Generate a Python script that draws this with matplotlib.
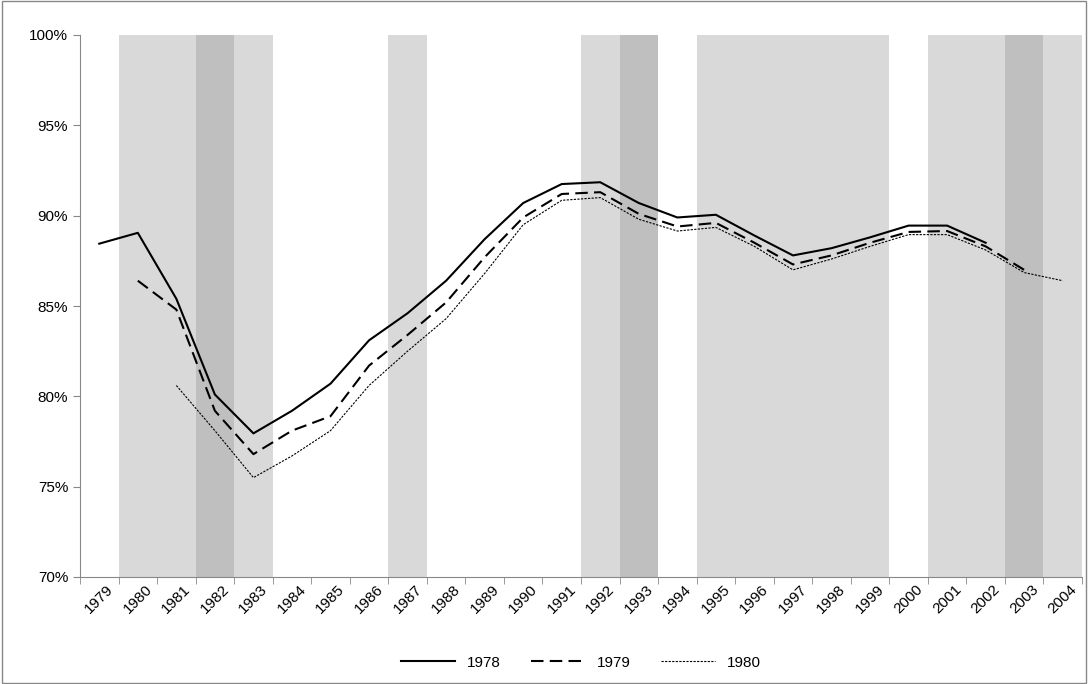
import matplotlib
matplotlib.use("Agg")
import matplotlib.pyplot as plt
import numpy as np

years = list(range(1979, 2005))
s1978 = [88.45, 89.05, 85.4, 80.1, 77.95, 79.2, 80.7, 83.1, 84.6, 86.4, 88.7, 90.7, 91.75, 91.85,
         90.7, 89.9, 90.05, 88.9, 87.8, 88.2, 88.8, 89.45, 89.45, 88.5, None, None]
s1979 = [None, 86.4, 84.8, 79.2, 76.8, 78.1, 78.9, 81.7, 83.4, 85.2, 87.7, 89.9, 91.2, 91.3,
         90.1, 89.4, 89.6, 88.5, 87.3, 87.8, 88.5, 89.1, 89.15, 88.3, 87.0, None]
s1980 = [None, None, 80.6, 78.1, 75.5, 76.7, 78.1, 80.6, 82.5, 84.3, 86.8, 89.5, 90.85, 91.0,
         89.8, 89.15, 89.35, 88.3, 87.0, 87.6, 88.3, 88.95, 88.95, 88.1, 86.85, 86.4]
light_bands = [(1980, 1983), (1987, 1987), (1992, 1993), (1995, 1999), (2001, 2004)]
dark_bands = [(1982, 1982), (1993, 1993), (2003, 2003)]

plt.rcParams['font.family'] = ['Liberation Sans', 'DejaVu Sans']
fig = plt.figure(figsize=(10.88, 6.84), dpi=100)
fig.patches.append(plt.Rectangle((0.002, 0.002), 0.996, 0.996, transform=fig.transFigure,
                                 fill=False, edgecolor='#888888', lw=1))
ax = fig.add_axes([80/1088, 1-577/684, 1002/1088, 542/684])
idx = {y: i for i, y in enumerate(years)}
for a, b in light_bands:
    ax.axvspan(idx[a]-0.5, idx[b]+0.5, color='#d9d9d9', lw=0, zorder=0)
for a, b in dark_bands:
    ax.axvspan(idx[a]-0.5, idx[b]+0.5, color='#bfbfbf', lw=0, zorder=0)

x = np.arange(len(years))
def arr(s): return np.array([np.nan if v is None else v for v in s], float)
ax.plot(x, arr(s1978), color='black', lw=1.5, label='1978')
ax.plot(x, arr(s1979), color='black', lw=1.5, ls=(0, (6, 3)), label='1979')
ax.plot(x, arr(s1980), color='black', lw=0.8, ls=(0, (2, 1.2)), label='1980')

ax.set_xlim(-0.5, len(years)-0.5)
ax.set_ylim(70, 100)
ax.set_yticks(range(70, 101, 5))
ax.set_yticklabels([f"{v}%" for v in range(70, 101, 5)], fontsize=11)
ax.set_xticks(x)
ax.set_xticklabels([str(y) for y in years], rotation=45, fontsize=11)
ax.set_xticks(np.arange(-0.5, len(years)), minor=True)
ax.tick_params(axis='x', which='major', length=0, pad=4)
ax.tick_params(axis='x', which='minor', length=5, color='#888888')
ax.tick_params(axis='y', length=5, color='#888888')
for sp in ['top', 'right']:
    ax.spines[sp].set_visible(False)
for sp in ['left', 'bottom']:
    ax.spines[sp].set_color('#888888')
ax.legend(loc='upper center', bbox_to_anchor=(0.5, -0.12), ncol=3, frameon=False, fontsize=11,
          handlelength=3.5)
fig.savefig("out.png", dpi=100)
